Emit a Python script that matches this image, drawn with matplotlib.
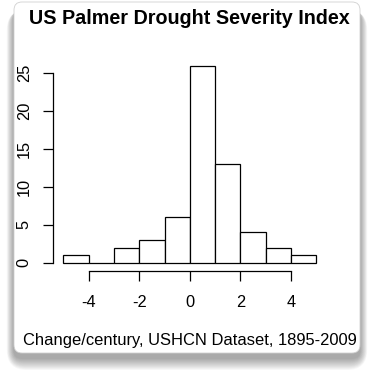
import numpy as np
import matplotlib.pyplot as plt
from matplotlib.patches import FancyBboxPatch

# histogram data (change per century)
breaks = [-5, -4, -3, -2, -1, 0, 1, 2, 3, 4, 5]
counts = [1, 0, 2, 3, 6, 26, 13, 4, 2, 1]
xticks = [-4, -2, 0, 2, 4]
yticks = [0, 5, 10, 15, 20, 25]

plt.rcParams['font.family'] = ['Liberation Sans', 'DejaVu Sans']

W, H = 374, 377
fig = plt.figure(figsize=(W / 100, H / 100), dpi=100)
fig.patch.set_facecolor('white')


def card(x0, y0, x1, y1, r, **kw):
    # pixel box measured from top-left corner
    p = FancyBboxPatch((x0 / W, 1 - y1 / H), (x1 - x0) / W, (y1 - y0) / H,
                       boxstyle='round,pad=0,rounding_size=%f' % (r / W),
                       transform=fig.transFigure, zorder=-10, **kw)
    fig.add_artist(p)
    return p


# soft drop shadow
for i in range(12, 0, -1):
    card(14 - i * 0.6, 2 + 8, 360 + i * 0.6, 353 + 5 + i * 1.0, 8 + i,
         fc='black', ec='none', alpha=0.03)
card(14, 2, 360, 353, 8, fc='white', ec='#d0d0d0', lw=0.6)

ax = fig.add_axes([0.1425, 0.2822, 0.730, 0.5647])
ax.patch.set_visible(False)
ax.bar(breaks[:-1], counts, width=1, align='edge', fc='white', ec='black', lw=0.9)
ax.set_xlim(-5.4, 5.4)
ax.set_ylim(-1.04, 27.04)

for s in ['top', 'right']:
    ax.spines[s].set_visible(False)
ax.spines['left'].set_bounds(0, 25)
ax.spines['bottom'].set_bounds(-4, 4)
for s in ['left', 'bottom']:
    ax.spines[s].set_linewidth(0.9)

ax.set_xticks(xticks)
ax.set_xticklabels([str(t) for t in xticks])
ax.set_yticks(yticks)
ax.set_yticklabels([str(t) for t in yticks], rotation=90, va='center')
ax.tick_params(direction='out', length=7.5, width=0.9, labelsize=11.8)
ax.tick_params(axis='x', pad=10)
ax.tick_params(axis='y', pad=8)

fig.text(0.5067, 1 - 18 / H, 'US Palmer Drought Severity Index',
         ha='center', va='center', fontsize=14.2, fontweight='bold')
fig.text(0.5067, 1 - 340 / H, 'Change/century, USHCN Dataset, 1895-2009',
         ha='center', va='center', fontsize=11.9)

fig.savefig('out.png', dpi=100)
